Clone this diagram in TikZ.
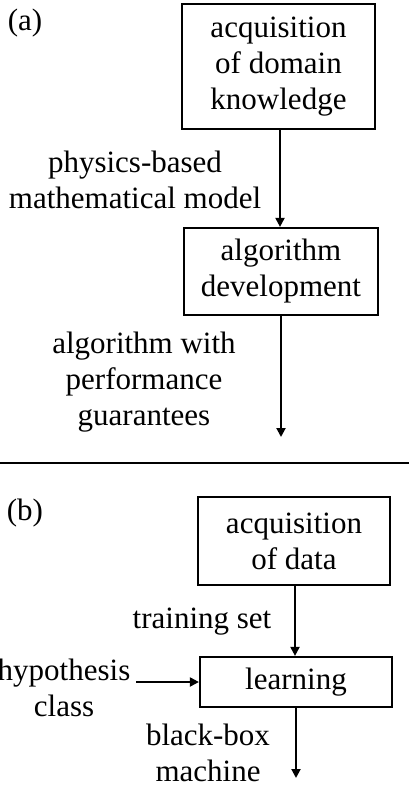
\documentclass[tikz,border=0pt]{standalone}
\usepackage{fontspec}
\setmainfont{Liberation Serif}
\usetikzlibrary{arrows.meta}
\begin{document}
\begin{tikzpicture}[x=1pt,y=-1pt,
  font=\fontsize{31}{36}\selectfont,
  box/.style={draw,line width=2.2pt,inner sep=0pt,align=center},
  lbl/.style={inner sep=0pt,align=center},
  conn/.style={line width=2pt,-{Triangle[length=9pt,width=9pt]}}]
\useasboundingbox (0,0) rectangle (409,792);
\node[lbl] (la) at (25,23) {(a)};
\node[box,minimum width=193pt,minimum height=125pt] (b1) at (278.5,66.5) {acquisition\\of domain\\knowledge};
\node[box,minimum width=194pt,minimum height=87pt] (b2) at (281,271.5) {algorithm\\development};
\node[lbl] (t1) at (135,180) {physics-based\\mathematical model};
\node[lbl] (t2) at (144,382) {algorithm with\\performance\\guarantees};
\coordinate (e2) at (281,437);
\draw[conn] (b1.south -| b2.center) ++(-1,0) -- ([xshift=-1pt]b2.north);
\draw[conn] (b2.south) -- (e2);
\coordinate (h1) at (0,463);
\coordinate (h2) at (409,463);
\draw[line width=2pt] (h1) -- (h2);
\node[lbl] (lb) at (25,513) {(b)};
\node[box,minimum width=192pt,minimum height=88pt] (b3) at (294,541) {acquisition\\of data};
\node[box,minimum width=192pt,minimum height=50pt] (b4) at (296,682) {learning};
\node[lbl] (t3) at (202,622) {training set};
\node[lbl] (t4) at (64,688) {hypothesis\\class};
\node[lbl] (t5) at (208,753) {black-box\\machine};
\coordinate (hs) at (136,682);
\coordinate (e4) at (296,778);
\draw[conn] (b3.south) ++(1,0) -- ([xshift=1pt]b3.south |- b4.north);
\draw[conn] (hs) -- (b4.west);
\draw[conn] (b4.south) -- (e4);
\end{tikzpicture}
\end{document}
